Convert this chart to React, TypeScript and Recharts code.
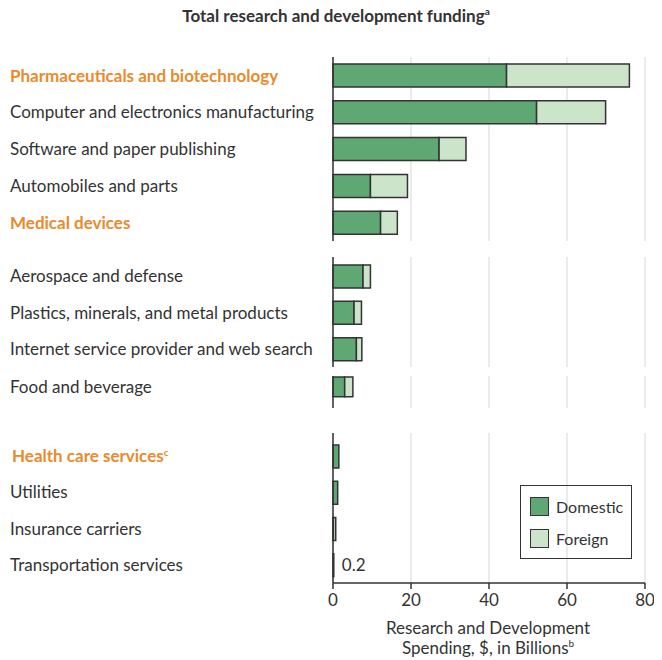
import { BarChart, Bar, XAxis, YAxis, CartesianGrid, Cell, LabelList } from 'recharts';

const sectors = [
  'Pharmaceuticals and biotechnology',
  'Computer and electronics manufacturing',
  'Software and paper publishing',
  'Automobiles and parts',
  'Medical devices',
  'Aerospace and defense',
  'Plastics, minerals, and metal products',
  'Internet service provider and web search',
  'Food and beverage',
  'Health care services',
  'Utilities',
  'Insurance carriers',
  'Transportation services',
];
const domestic = [44.5, 52.2, 27.2, 9.6, 12.2, 7.7, 5.4, 6.0, 3.0, 1.5, 1.2, 0.1, 0.2];
const foreign = [31.5, 17.7, 6.9, 9.5, 4.3, 1.9, 1.9, 1.4, 2.1, 0, 0, 0.6, 0];
const sectorGroup = [0, 0, 0, 0, 0, 1, 1, 1, 2, 3, 3, 3, 3];
const notes = ['', '', '', '', '', '', '', '', '', '', '', '', '0.2'];
const highlighted = ['Pharmaceuticals and biotechnology', 'Medical devices', 'Health care services'];
const xTicks = [0, 20, 40, 60, 80];

const FONT = 'Lato, "Noto Sans", sans-serif';
const TEXT = '#333';
const ORANGE = '#e98a2c';
const DOM = '#5fa874';
const FOR = '#cce4c9';
const W = 654;

// page coords of each plot segment (axis line breaks between them)
const segments = [
  { top: 57, bottom: 241, padTop: 0, padBottom: 0 },
  { top: 257, bottom: 367, padTop: 1, padBottom: 0 },
  { top: 376, bottom: 408, padTop: 0, padBottom: 10 },
  { top: 433, bottom: 583, padTop: 5, padBottom: 0 },
];

const rows = sectors.map((name, i) => ({
  name,
  domestic: domestic[i],
  foreign: foreign[i],
  note: notes[i],
  group: sectorGroup[i],
}));

function SectorTick(props: any) {
  const { y, payload } = props;
  const name = payload.value as string;
  const hi = highlighted.includes(name);
  return (
    <text
      x={name === 'Health care services' ? 4 : 2}
      y={y}
      dy="0.36em"
      textAnchor="start"
      fontFamily={FONT}
      fontSize={17}
      fontWeight={hi ? 700 : 400}
      fill={hi ? ORANGE : TEXT}
    >
      {name}
      {name === 'Health care services' && <tspan dy={-6} fontSize={10}>c</tspan>}
    </text>
  );
}

const supStyle = { fontSize: 10, lineHeight: 0 };

export default function App() {
  return (
    <div style={{ position: 'relative', width: W, height: 652, fontFamily: FONT, color: TEXT }}>
      <div style={{ position: 'absolute', left: 0, top: -2, width: W + 2, textAlign: 'center', fontSize: 17, fontWeight: 700, lineHeight: '20px' }}>
        Total research and development funding<sup style={supStyle}>a</sup>
      </div>

      {segments.map((s, gi) => {
        const last = gi === segments.length - 1;
        const data = rows.filter(r => r.group === gi);
        return (
          <div key={gi} style={{ position: 'absolute', left: 0, top: s.top - 8 }}>
            <BarChart
              layout="vertical"
              width={W}
              height={s.bottom - s.top + (last ? 40 : 0)}
              data={data}
              margin={{ top: 0, right: 17, bottom: 0, left: 0 }}
              barSize={23}
            >
              <CartesianGrid horizontal={false} stroke="#dedede" strokeWidth={1.2} />
              <XAxis
                type="number"
                domain={[0, 80]}
                ticks={xTicks}
                hide={!last}
                height={last ? 40 : 0}
                axisLine={{ stroke: TEXT, strokeWidth: 1.5 }}
                tickLine={{ stroke: TEXT, strokeWidth: 1.5 }}
                tickSize={6}
                tickMargin={5}
                tick={{ fill: TEXT, fontSize: 17, fontFamily: FONT }}
              />
              <YAxis
                type="category"
                dataKey="name"
                width={325}
                interval={0}
                tick={<SectorTick />}
                tickLine={false}
                axisLine={{ stroke: TEXT, strokeWidth: 1.5 }}
                padding={{ top: s.padTop, bottom: s.padBottom }}
              />
              <Bar dataKey="domestic" stackId="a" fill={DOM} stroke={TEXT} strokeWidth={1.5} isAnimationActive={false}>
                {data.map(r => (
                  <Cell key={r.name} fill={r.note ? '#111' : DOM} />
                ))}
                <LabelList dataKey="note" position="right" offset={8} fill={TEXT} fontSize={17} fontFamily={FONT} />
              </Bar>
              <Bar dataKey="foreign" stackId="a" fill={FOR} stroke={TEXT} strokeWidth={1.5} isAnimationActive={false} />
            </BarChart>
          </div>
        );
      })}

      <div style={{ position: 'absolute', left: 512, top: 477, width: 112, height: 74, border: `1.5px solid ${TEXT}`, boxSizing: 'border-box', fontSize: 16 }}>
        {[{ c: DOM, t: 'Domestic' }, { c: FOR, t: 'Foreign' }].map((e, i) => (
          <div key={e.t} style={{ position: 'absolute', left: 9, top: 11 + i * 32, display: 'flex', alignItems: 'center' }}>
            <div style={{ width: 19, height: 19, background: e.c, border: `1.5px solid ${TEXT}`, boxSizing: 'border-box' }} />
            <span style={{ marginLeft: 7 }}>{e.t}</span>
          </div>
        ))}
      </div>

      <div style={{ position: 'absolute', left: 330, width: 300, top: 610, textAlign: 'center', fontSize: 17, lineHeight: '20px' }}>
        Research and Development<br />
        Spending, $, in Billions<sup style={supStyle}>b</sup>
      </div>
    </div>
  );
}
